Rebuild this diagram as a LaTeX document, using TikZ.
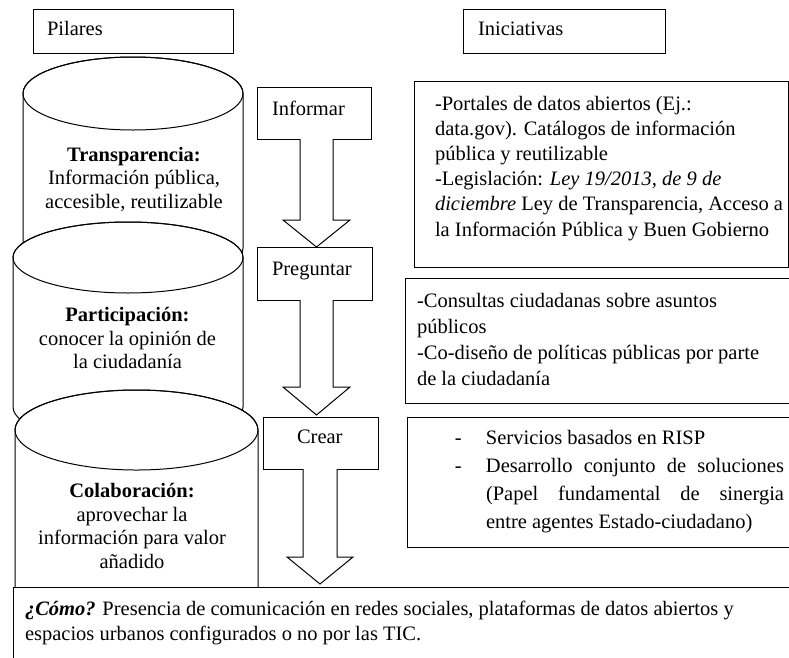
\documentclass[tikz,border=0pt]{standalone}
\usepackage{fontspec}
\setmainfont{Liberation Serif}
\usetikzlibrary{calc}
\begin{document}
\begin{tikzpicture}[x=1pt,y=1pt,line width=1pt,
  every node/.style={inner sep=0pt,outer sep=0pt},
  boxnode/.style={draw,fill=white,anchor=north west},
  tx/.style={font=\fontsize{20.5}{25.2}\selectfont,anchor=base west,align=left},
  cyltext/.style={font=\fontsize{20.5}{23.4}\selectfont,anchor=base,align=center},
  cyl/.style={draw,fill=white},
  barrow/.style={draw,fill=white,line join=miter}]
\useasboundingbox (0,0) rectangle (789,-657);

% header boxes
\node[boxnode,minimum width=200,minimum height=44] (pil) at (33,-9) {};
\node[tx] (pilt) at (47,-35) {Pilares};
\node[boxnode,minimum width=202,minimum height=44] (ini) at (463,-9) {};
\node[tx] (init) at (478,-35) {Iniciativas};

% cylinder 1
\filldraw[cyl] (23,-93.5) -- (23,-248) arc[start angle=180,end angle=360,x radius=110,y radius=36.5]
  -- (243,-93.5) arc[start angle=0,end angle=180,x radius=110,y radius=36.5] -- cycle;
\draw (133,-93.5) ellipse[x radius=110,y radius=36.5];
\node[cyltext] (c1t) at (134,-208) {\textbf{Transparencia:}\\Información pública,\\accesible, reutilizable};

% cylinder 2
\filldraw[cyl] (13,-257.5) -- (13,-407) arc[start angle=180,end angle=360,x radius=115,y radius=35.5]
  -- (243,-257.5) arc[start angle=0,end angle=180,x radius=115,y radius=35.5] -- cycle;
\draw (128,-257.5) ellipse[x radius=115,y radius=35.5];
\node[cyltext] (c2t) at (127.5,-368.5) {\textbf{Participación:}\\conocer la opinión de\\la ciudadanía};

% cylinder 3
\filldraw[cyl] (15,-430) -- (15,-620) arc[start angle=180,end angle=360,x radius=121.5,y radius=40]
  -- (258,-430) arc[start angle=0,end angle=180,x radius=121.5,y radius=40] -- cycle;
\draw (136.5,-430) ellipse[x radius=121.5,y radius=40];
\node[cyltext] (c3t) at (132,-568) {\textbf{Colaboración:}\\aprovechar la\\información para valor\\añadido};

% step boxes
\node[boxnode,minimum width=114,minimum height=52] (inf) at (257,-87) {};
\node[tx] (inft) at (272,-115) {Informar};
\node[boxnode,minimum width=115,minimum height=53] (preg) at (257,-247) {};
\node[tx] (pregt) at (272,-275) {Preguntar};
\node[boxnode,minimum width=115,minimum height=52] (cre) at (263,-417) {};
\node[tx] (cret) at (297,-443) {Crear};

% bottom box
\node[boxnode,minimum width=790,minimum height=85] (como) at (13,-587) {};
\node[tx,font=\fontsize{20.5}{25}\selectfont] (comot) at (25,-640)
  {\textbf{\textit{¿Cómo?}} Presencia de comunicación en redes sociales, plataformas de datos abiertos y\\espacios urbanos configurados o no por las TIC.};

% block arrows
\draw[barrow] ($(inf.south)+(-14,0)$) -- ($(inf.south |- preg.north)+(-14,27)$) -- ++(-17,0)
  -- ($(inf.south |- preg.north)+(2.5,0)$) -- ($(inf.south |- preg.north)+(36,27)$) -- ++(-17,0)
  -- ($(inf.south)+(19,0)$);
\draw[barrow] ($(preg.south)+(-14.5,0)$) -- ($(preg.south |- cre.north)+(-14.5,30)$) -- ++(-17,0)
  -- ($(preg.south |- cre.north)+(2,2)$) -- ($(preg.south |- cre.north)+(35.5,30)$) -- ++(-17,0)
  -- ($(preg.south)+(18.5,0)$);
\draw[barrow] ($(cre.south)+(-17.5,0)$) -- ($(cre.south |- como.north)+(-17.5,30)$) -- ++(-16,0)
  -- ($(cre.south |- como.north)+(-0.5,3)$) -- ($(cre.south |- como.north)+(32.5,30)$) -- ++(-16,0)
  -- ($(cre.south)+(16.5,0)$);

% initiative boxes
\node[boxnode,minimum width=374,minimum height=186] (r1) at (414,-81) {};
\node[tx] (r1t) at (435,-236) {-Portales de datos abiertos (Ej.:\\data.gov). Catálogos de información\\pública y reutilizable\\-Legislación: \textit{Ley 19/2013, de 9 de}\\\textit{diciembre} Ley de Transparencia, Acceso a\\la Información Pública y Buen Gobierno};

\node[boxnode,minimum width=395,minimum height=125] (r2) at (405,-278) {};
\node[tx,font=\fontsize{20.5}{26}\selectfont] (r2t) at (417,-385) {-Consultas ciudadanas sobre asuntos\\públicos\\-Co-diseño de políticas públicas por parte\\de la ciudadanía};

\node[boxnode,minimum width=393,minimum height=130] (r3) at (407,-417) {};
\node[tx,font=\fontsize{20.5}{27.7}\selectfont] (r3t) at (486,-528)
  {\llap{-\hskip 24.2pt}Servicios basados en RISP\\
   \llap{-\hskip 24.2pt}\makebox[298pt][s]{Desarrollo conjunto de soluciones}\\
   \makebox[298pt][s]{(Papel fundamental de sinergia}\\
   entre agentes Estado-ciudadano)};
\end{tikzpicture}
\end{document}
